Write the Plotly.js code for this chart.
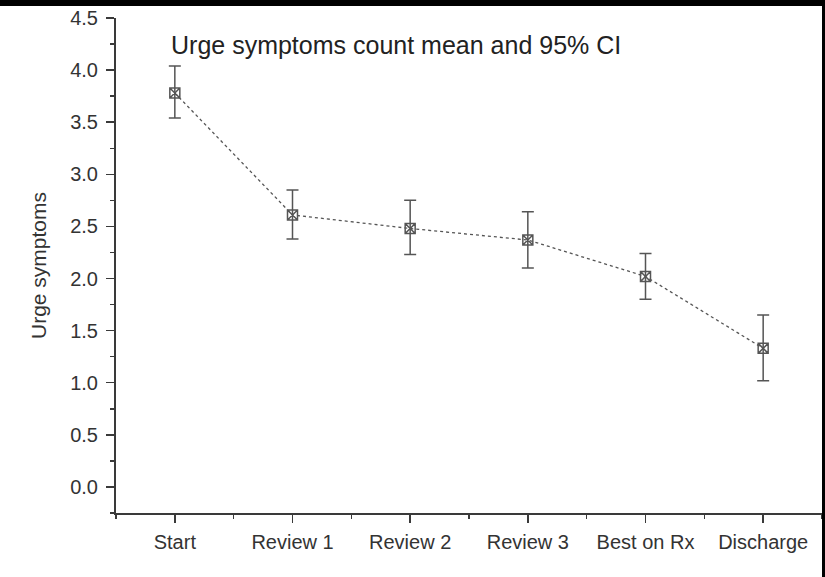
<!DOCTYPE html>
<html>
<head>
<meta charset="utf-8">
<script src="https://cdn.plot.ly/plotly-3.0.1.min.js"></script>
<style>
  html, body { margin: 0; padding: 0; background: #fff; }
  #wrap { position: relative; width: 825px; height: 577px; overflow: hidden; }
  #chart { position: absolute; left: 0; top: 0; width: 825px; height: 577px; }
  #topbar { position: absolute; left: 0; top: 0; width: 825px; height: 6px; background: #000; }
  #rightbar { position: absolute; right: 0; top: 0; width: 3px; height: 577px; background: #000; }
</style>
</head>
<body>
<div id="wrap">
  <div id="chart"></div>
  <div id="topbar"></div>
  <div id="rightbar"></div>
</div>
<script>
const categories = ["Start", "Review 1", "Review 2", "Review 3", "Best on Rx", "Discharge"];
const meanValues = [3.78, 2.61, 2.48, 2.37, 2.02, 1.33];
const upperCI    = [4.04, 2.85, 2.75, 2.64, 2.24, 1.65];
const lowerCI    = [3.54, 2.38, 2.23, 2.10, 1.80, 1.02];
const yTickVals  = [0, 0.5, 1, 1.5, 2, 2.5, 3, 3.5, 4, 4.5];

const xIdx = categories.map((c, i) => i);
const errPlus  = meanValues.map((v, i) => upperCI[i] - v);
const errMinus = meanValues.map((v, i) => v - lowerCI[i]);

const axisColor = "#3a3a3a";
const font = "Liberation Sans, Arial, sans-serif";

const trace = {
  x: xIdx,
  y: meanValues,
  type: "scatter",
  mode: "lines+markers",
  line: { color: "#555", width: 1.3, dash: "dot" },
  marker: { symbol: "square-x-open", size: 10, color: "#555", line: { width: 1.5, color: "#555" } },
  error_y: {
    type: "data",
    symmetric: false,
    array: errPlus,
    arrayminus: errMinus,
    color: "#555",
    thickness: 1.5,
    width: 6
  },
  hoverinfo: "skip",
  cliponaxis: false
};

const layout = {
  width: 825,
  height: 577,
  margin: { l: 116, r: 3, t: 18, b: 64, pad: 0 },
  paper_bgcolor: "#fff",
  plot_bgcolor: "#fff",
  showlegend: false,
  font: { family: font, color: "#333" },
  xaxis: {
    range: [-0.5, 5.5],
    tickmode: "array",
    tickvals: xIdx,
    ticktext: categories,
    ticks: "outside",
    ticklen: 8,
    tickwidth: 1.5,
    tickcolor: axisColor,
    ticklabelstandoff: 2,
    showline: true,
    linecolor: axisColor,
    linewidth: 2,
    showgrid: false,
    zeroline: false,
    tickfont: { size: 20, family: font, color: "#333" },
    minor: { tick0: -0.5, dtick: 1, ticks: "outside", ticklen: 4, tickwidth: 1.5, tickcolor: axisColor, showgrid: false },
    fixedrange: true
  },
  yaxis: {
    range: [-0.25, 4.5],
    tickmode: "array",
    tickvals: yTickVals,
    tickformat: ".1f",
    ticks: "outside",
    ticklen: 8,
    tickwidth: 1.5,
    tickcolor: axisColor,
    ticklabelstandoff: 4,
    showline: true,
    linecolor: axisColor,
    linewidth: 2,
    showgrid: false,
    zeroline: false,
    tickfont: { size: 20, family: font, color: "#333" },
    minor: { tick0: 0.25, dtick: 0.5, ticks: "outside", ticklen: 4, tickwidth: 1.5, tickcolor: axisColor, showgrid: false },
    title: { text: "Urge symptoms", font: { size: 21, family: font, color: "#333" }, standoff: 18 },
    fixedrange: true
  },
  annotations: [{
    text: "Urge symptoms count mean and 95% CI",
    xref: "paper", yref: "paper",
    x: 0.075, y: 0.945,
    xanchor: "left", yanchor: "middle",
    showarrow: false,
    font: { size: 25, family: font, color: "#222" }
  }]
};

Plotly.newPlot("chart", [trace], layout, { displayModeBar: false, staticPlot: true });
</script>
</body>
</html>
